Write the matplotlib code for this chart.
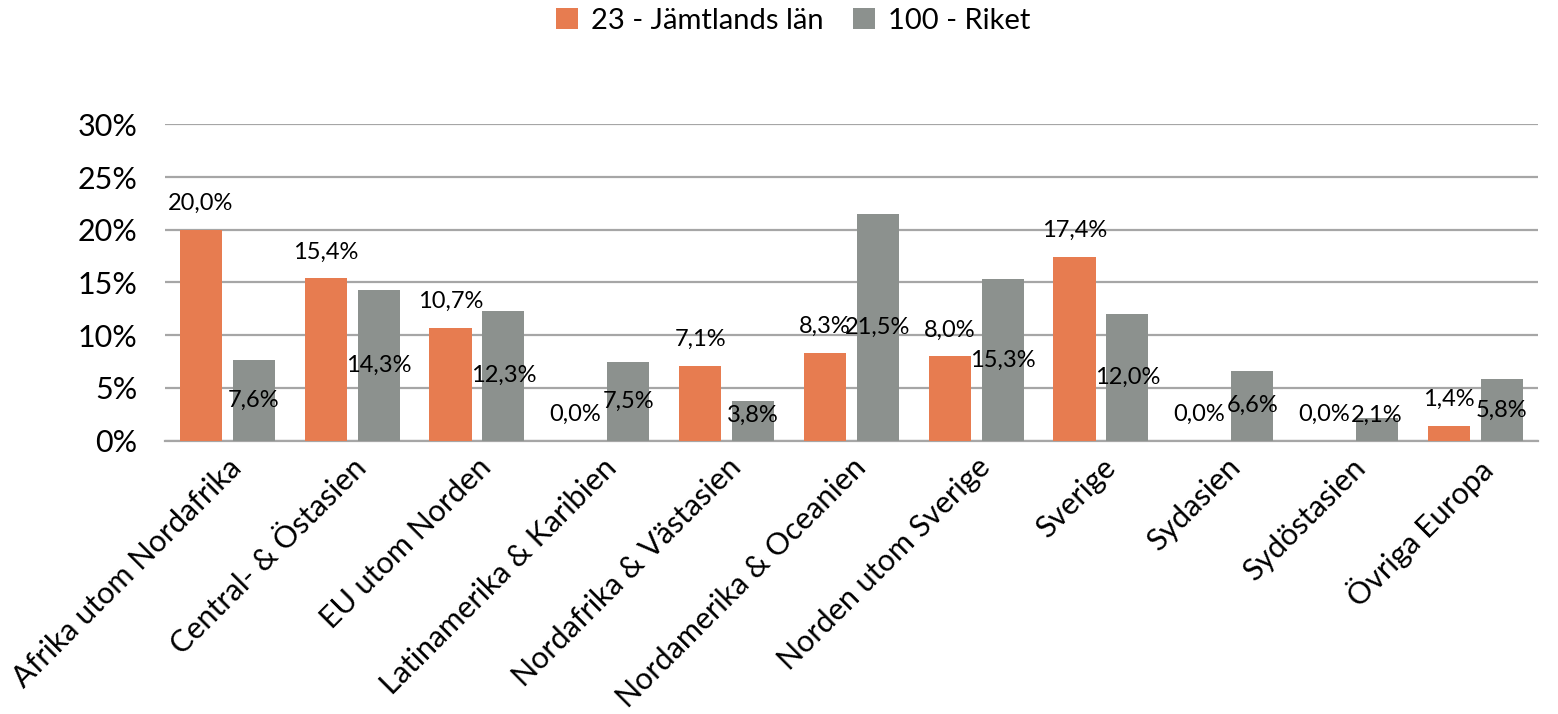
import numpy as np
import matplotlib.pyplot as plt
from matplotlib.ticker import FuncFormatter

plt.rcParams['font.family'] = ['Lato', 'DejaVu Sans']

# Andel per ursprungsregion (procent)
regioner = ['Afrika utom Nordafrika', 'Central- & Östasien', 'EU utom Norden',
            'Latinamerika & Karibien', 'Nordafrika & Västasien',
            'Nordamerika & Oceanien', 'Norden utom Sverige', 'Sverige',
            'Sydasien', 'Sydöstasien', 'Övriga Europa']
jamtland = [20.0, 15.4, 10.7, 0.0, 7.1, 8.3, 8.0, 17.4, 0.0, 0.0, 1.4]
riket = [7.6, 14.3, 12.3, 7.5, 3.8, 21.5, 15.3, 12.0, 6.6, 2.1, 5.8]
serienamn = ['23 - Jämtlands län', '100 - Riket']

orange = '#e77c50'
gra = '#8c918e'

fig = plt.figure(figsize=(15.58, 7.14), dpi=100)
ax = fig.add_axes([0.1059, 0.383, 0.8811, 0.4427])

x = np.arange(len(regioner))
w = 0.337
off = 0.212
b1 = ax.bar(x - off, jamtland, w, color=orange, label=serienamn[0], zorder=3)
b2 = ax.bar(x + off, riket, w, color=gra, label=serienamn[1], zorder=3)

def fmt(v):
    return f'{v:.1f}%'.replace('.', ',')

# etiketter: länet ovanför stapeln, riket mitt i stapeln
for xi, v in zip(x - off, jamtland):
    ax.annotate(fmt(v), (xi, v), xytext=(0, 19), textcoords='offset points',
                ha='center', va='center', fontsize=17, color='black', zorder=5)
for xi, v in zip(x + off, riket):
    ax.text(xi, max(v / 2, 2.4), fmt(v), ha='center', va='center',
            fontsize=17, color='black', zorder=5)

ax.set_xlim(-0.5, len(regioner) - 0.5)
ax.set_ylim(0, 30)
ax.set_yticks(np.arange(0, 31, 5))
ax.yaxis.set_major_formatter(FuncFormatter(lambda v, p: f'{v:.0f}%'))
ax.yaxis.grid(True, color='#a6a6a6', linewidth=1.6, zorder=0)
ax.tick_params(axis='y', length=0, pad=20, labelsize=22)
ax.tick_params(axis='x', length=0, pad=9)
for s in ['top', 'right', 'left']:
    ax.spines[s].set_visible(False)
ax.spines['bottom'].set_color('#a6a6a6')
ax.spines['bottom'].set_linewidth(1.6)

ax.set_xticks(x)
ax.set_xticklabels(regioner, rotation=45, ha='right', va='top',
                   rotation_mode='anchor', fontsize=22)

fig.legend(handles=[b1, b2], loc='center', bbox_to_anchor=(0.509, 0.971),
           ncol=2, frameon=False, fontsize=21, handlelength=0.75,
           handleheight=0.75, handletextpad=0.45, columnspacing=1.0)

fig.savefig('out.png', dpi=100)
